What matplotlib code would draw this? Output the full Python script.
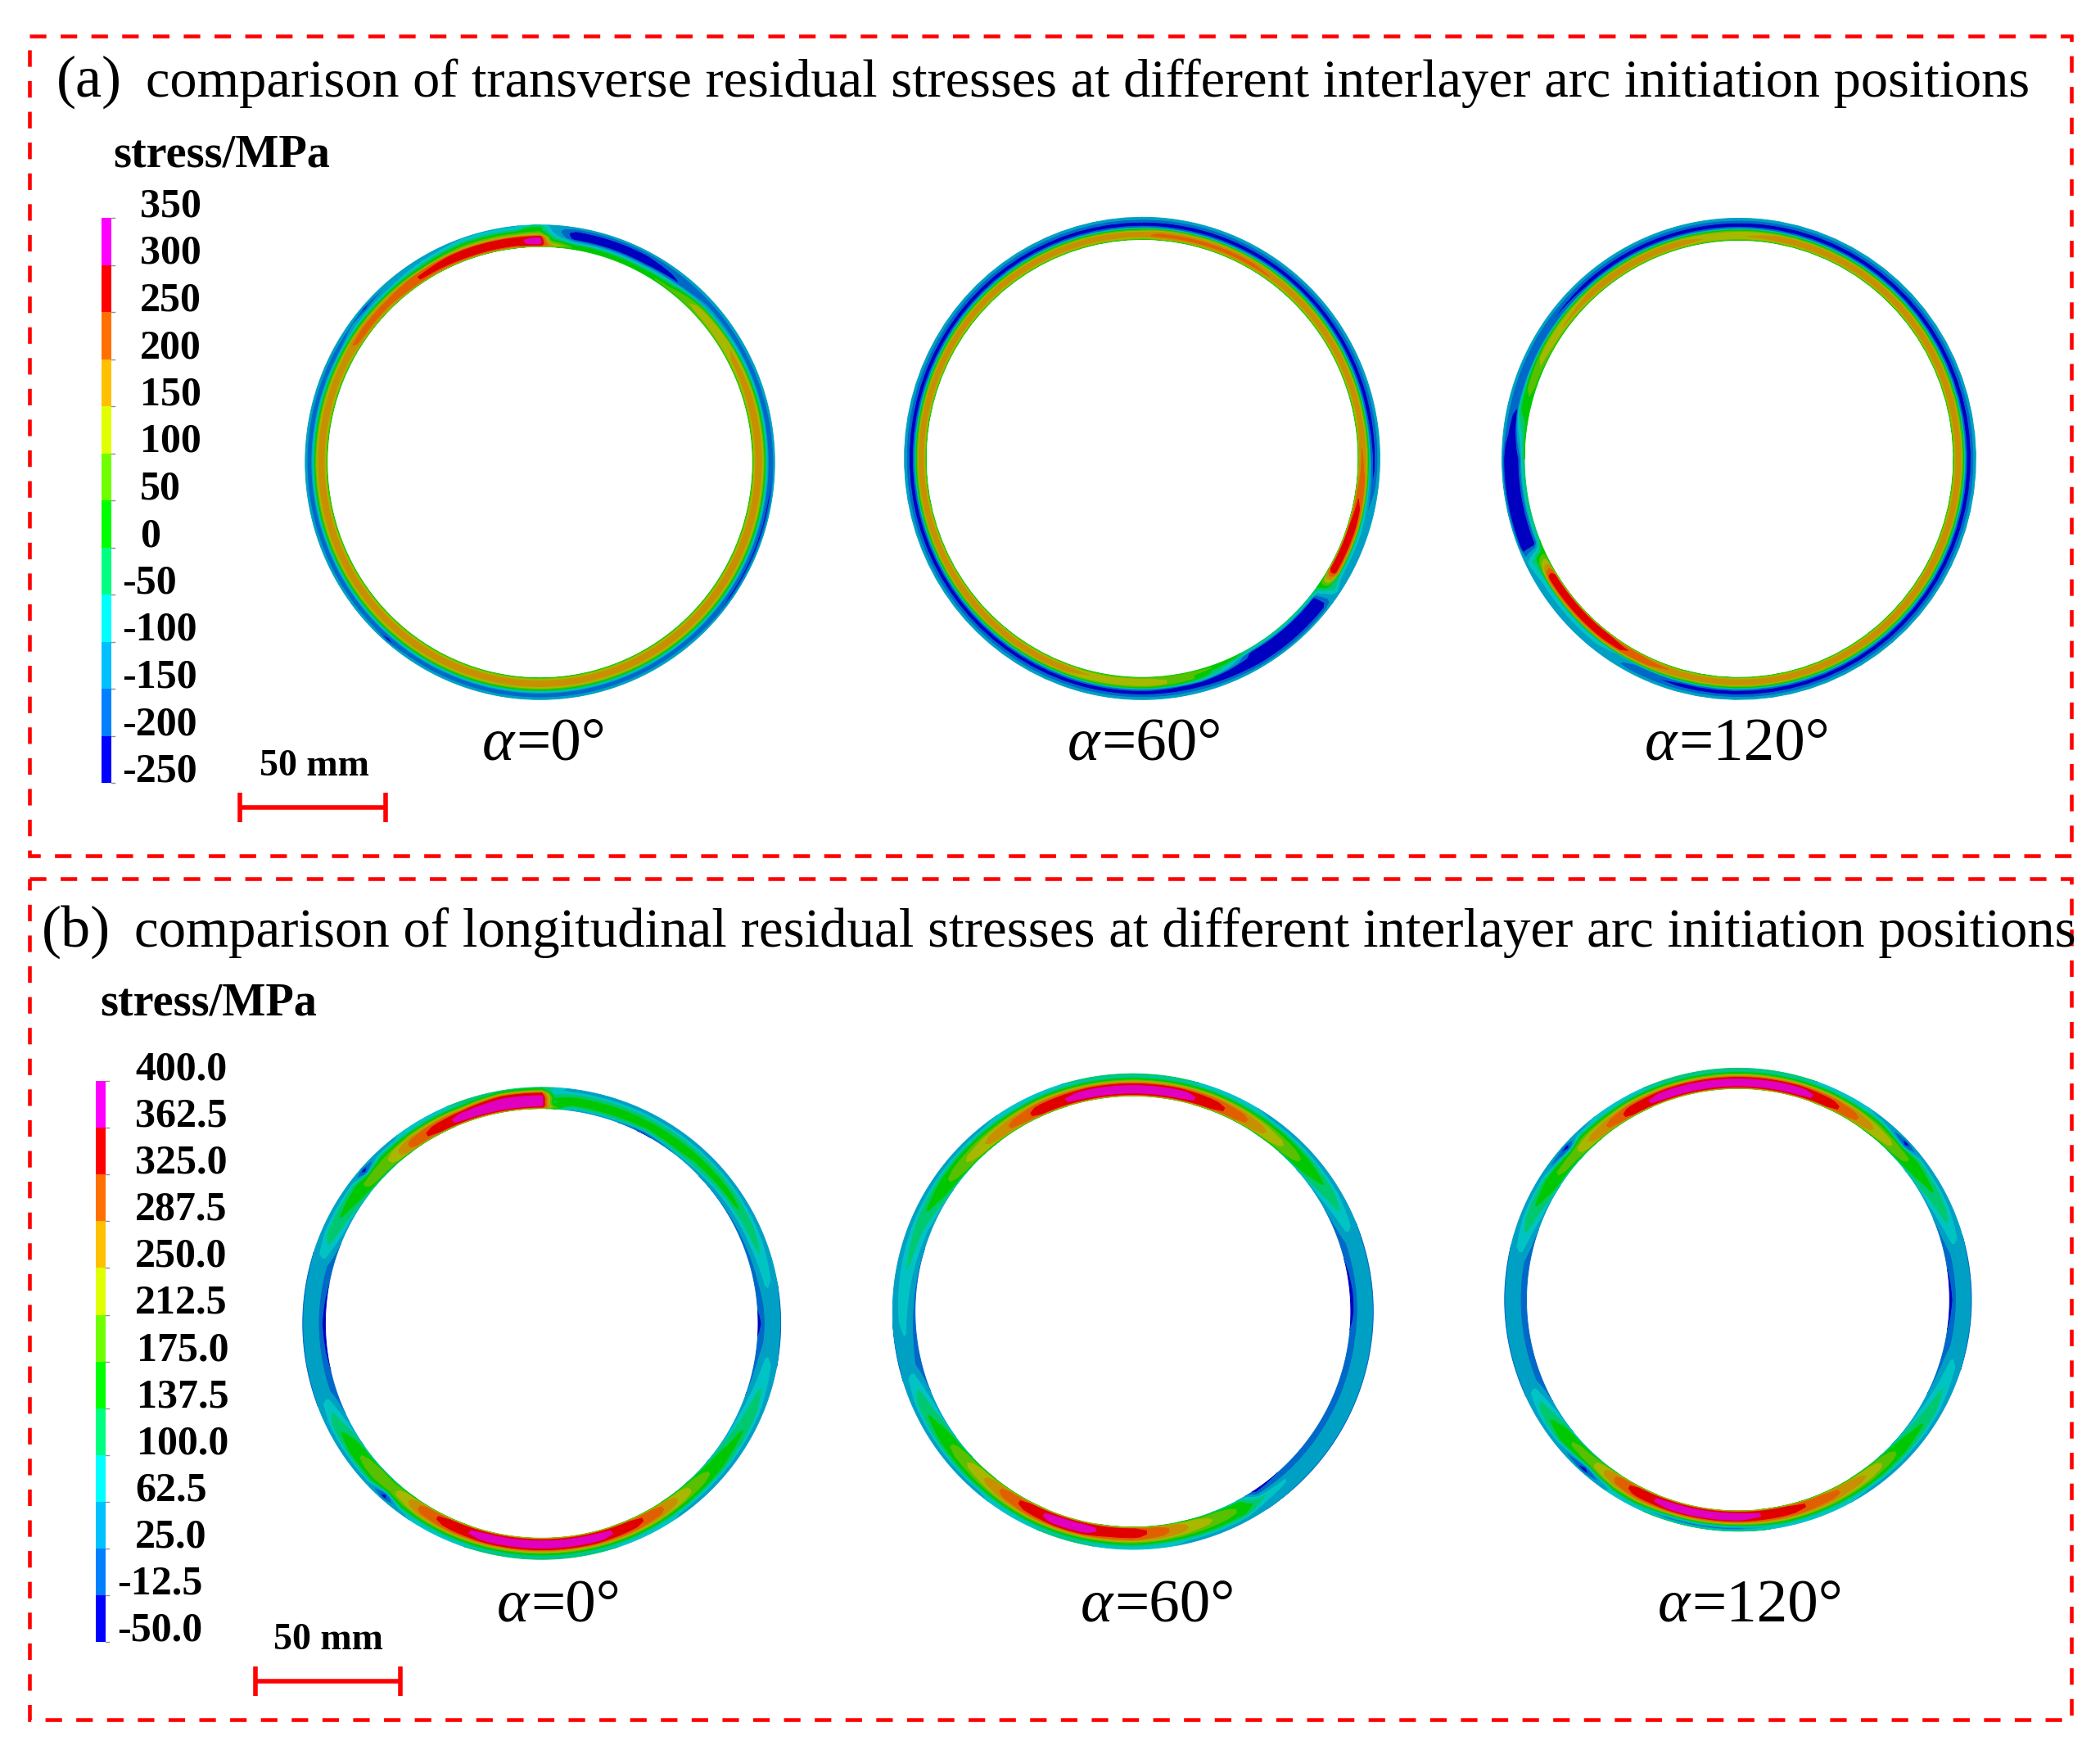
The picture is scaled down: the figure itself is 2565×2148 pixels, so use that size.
#!/usr/bin/env python3
# -*- coding: utf-8 -*-

"""Residual stress rings, transverse (a) and longitudinal (b)."""

import numpy as np
import matplotlib
matplotlib.use('Agg')
import matplotlib.pyplot as plt
from matplotlib.path import Path
from matplotlib.patches import Rectangle
from matplotlib.transforms import Transform

plt.rcParams['font.family'] = ['Liberation Serif', 'DejaVu Serif']

# colour bars
LEGEND_COLORS = ['#0000ff', '#0080ff', '#00c0ff', '#00ffff', '#00ff80', '#00ff00',
                 '#70ff00', '#e0ff00', '#ffc000', '#ff7000', '#ff0000', '#ff00ff']
RING_COLORS = ['#0000c0', '#0068c8', '#00a0c4', '#00c4c4', '#00c870', '#00c800',
               '#58c000', '#a8b800', '#c89000', '#e06000', '#e00000', '#e000c0']
LEVELS_A = [-250, -200, -150, -100, -50, 0, 50, 100, 150, 200, 250, 300, 350]
LEVELS_B = [-50, -12.5, 25, 62.5, 100, 137.5, 175, 212.5, 250, 287.5, 325, 362.5, 400]
LABELS_A = ['-250', '-200', '-150', '-100', '-50', '0', '50', '100', '150', '200',
            '250', '300', '350']
LABELS_B = ['-50.0', '-12.5', '25.0', '62.5', '100.0', '137.5', '175.0', '212.5',
            '250.0', '287.5', '325.0', '362.5', '400.0']

# position across the wall, 0 = inner edge, 1 = outer edge
WALL = [0, .08, .18, .33, .45, .55, .72, .88, 1]

# stress across the wall, panel (a), first ring
A1_BASE = [25, 115, 175, 178, 130, 20, -170, -165, -115]
A1_DEEP = [25, 115, 175, 178, 130, 20, -170, -215, -125]
A1_SPOT = [25, 115, 178, 180, 130, 20, -170, -230, -130]
A1_WARM = [30, 170, 215, 220, 165, 30, -120, -160, -115]
A1_WARM_SPOT = [30, 170, 215, 220, 165, 30, -120, -230, -115]
A1_WARM2 = [35, 230, 255, 255, 215, 45, -60, -130, -112]
A1_HOT = [40, 240, 275, 278, 270, 120, 10, -80, -110]
A1_MAX = [60, 280, 320, 325, 285, 130, 30, 10, -60]
A1_SEAM = [60, 160, 100, 20, -20, -60, -100, -120, -120]
A1_WEDGE = [20, 40, 0, -120, -225, -240, -240, -180, -115]
A1_WEDGE_END = [25, 60, 40, -40, -150, -215, -190, -165, -115]
A1_OLIVE = [30, 90, 130, 125, 40, -100, -170, -160, -115]
A1_OLIVE2 = [30, 110, 145, 150, 110, -40, -170, -160, -115]
A1_THETA = [0, 3, 9, 28, 37, 47, 60, 72, 100, 125, 140, 216, 221, 226, 297, 306, 311,
            316, 328, 340, 354, 358, 360]
A1_ROWS = [A1_MAX, A1_SEAM, A1_WEDGE, A1_WEDGE, A1_WEDGE_END, A1_OLIVE, A1_OLIVE2,
           A1_BASE, A1_DEEP, A1_DEEP, A1_BASE, A1_BASE, A1_SPOT, A1_BASE, A1_BASE,
           A1_WARM, A1_WARM_SPOT, A1_WARM, A1_WARM2, A1_HOT, A1_HOT, A1_MAX, A1_MAX]

# panel (a), second ring
A2_BASE = [25, 130, 180, 150, 20, -190, -225, -160, -115]
A2_STREAK = [25, 150, 215, 190, 40, -190, -225, -160, -115]
A2_WARM = [25, 170, 215, 190, 40, -120, -225, -160, -115]
A2_HOT = [30, 250, 285, 280, 180, -40, -120, -130, -110]
A2_SEAM = [20, 60, 80, 60, 0, -20, -50, -100, -120]
A2_WEDGE = [-30, -100, -225, -240, -240, -240, -240, -180, -120]
A2_WEDGE_END = [30, 20, -60, -120, -225, -240, -235, -165, -115]
A2_GREEN = [25, 70, 40, 40, -60, -205, -225, -160, -115]
A2_OLIVE = [25, 100, 130, 130, 30, -190, -225, -160, -115]
A2_THETA = [0, 4, 30, 42, 80, 93, 108, 120, 124, 129, 150, 156, 165, 178, 190, 200, 360]
A2_ROWS = [A2_BASE, A2_STREAK, A2_STREAK, A2_BASE, A2_BASE, A2_WARM, A2_HOT, A2_HOT,
           A2_SEAM, A2_WEDGE, A2_WEDGE, A2_WEDGE_END, A2_GREEN, A2_OLIVE, A2_OLIVE,
           A2_BASE, A2_BASE]

# panel (a), third ring
A3_BASE = [25, 135, 185, 150, 20, -190, -228, -160, -115]
A3_TOP = [25, 110, 140, 130, 20, -190, -228, -160, -115]
A3_WARM = [25, 200, 230, 215, 60, -150, -170, -160, -115]
A3_HOT = [30, 260, 290, 285, 170, -50, -100, -130, -110]
A3_SEAM = [20, 60, 70, 40, 10, -30, -60, -100, -120]
A3_WEDGE = [0, -60, -160, -240, -240, -240, -240, -240, -130]
A3_WEDGE_END = [20, -30, -60, -120, -215, -240, -225, -170, -115]
A3_GREEN = [20, 30, 30, 20, -50, -200, -190, -160, -115]
A3_OLIVE = [25, 90, 130, 120, 30, -160, -190, -165, -115]
A3_THETA = [0, 10, 195, 207, 218, 238, 244, 248, 270, 276, 283, 300, 318, 345, 352, 360]
A3_ROWS = [A3_TOP, A3_BASE, A3_BASE, A3_WARM, A3_HOT, A3_HOT, A3_SEAM, A3_WEDGE,
           A3_WEDGE, A3_WEDGE_END, A3_GREEN, A3_OLIVE, A3_BASE, A3_BASE, A3_TOP, A3_TOP]

# stress across the wall, panel (b)
B_COOL = [-5, 5, 15, 30, 45, 45, 45, 35, 20]
B_COOLEST = [-30, -25, -5, 30, 45, 45, 45, 35, 20]
B_TIP = [30, 50, 70, 100, 120, 125, 100, 50, 35]
B_GREEN = [60, 130, 155, 165, 165, 160, 130, 50, 35]
B_LIME = [90, 180, 195, 200, 198, 185, 130, 50, 40]
B_SPOT = [90, 170, 195, 200, 195, 150, -10, -30, 30]
B_OLIVE = [130, 225, 240, 245, 235, 205, 140, 60, 50]
B_ORANGE = [150, 285, 305, 305, 295, 260, 150, 70, 70]
B_RED = [170, 330, 345, 345, 335, 300, 170, 85, 90]
B_MAX = [180, 345, 378, 380, 370, 325, 175, 90, 110]
B_TOPMAX = [200, 350, 385, 385, 385, 378, 330, 160, 120]
B_NOISY = [180, 345, 378, 380, 365, 300, 130, -10, 120]
B_SEAM = [140, 200, 150, 130, 140, 130, 90, 70, 100]
B_BAND = [30, 70, 130, 150, 155, 150, 110, 50, 35]
B_BAND_THIN = [-25, 10, 100, 150, 155, 150, 110, 50, 35]
B_FADE = [20, 40, 60, 110, 150, 150, 120, 50, 35]
B_FADE2 = [10, 20, 40, 70, 100, 110, 90, 50, 35]
B_INNER_DEEP = [-30, -20, 5, 60, 110, 100, 60, 40, 25]

B1_THETA = [0, 3, 8, 20, 28, 38, 55, 70, 85, 90, 95, 112, 130, 137, 149, 157, 166, 180,
            194, 204, 212, 217, 222, 227, 236, 244, 252, 270, 285, 293, 307, 311, 316,
            325, 333, 340, 350, 360]
B1_ROWS = [B_TOPMAX, B_SEAM, B_BAND, B_BAND, B_BAND_THIN, B_BAND, B_FADE, B_FADE2, B_COOL,
           B_COOLEST, B_COOL, B_TIP, B_GREEN, B_LIME, B_ORANGE, B_RED, B_MAX, B_MAX,
           B_MAX, B_RED, B_ORANGE, B_OLIVE, B_SPOT, B_LIME, B_GREEN, B_TIP, B_COOL,
           B_COOLEST, B_COOL, B_TIP, B_GREEN, B_SPOT, B_LIME, B_ORANGE, B_RED, B_MAX,
           B_TOPMAX, B_TOPMAX]

B2_THETA = [0, 12, 20, 28, 37, 49, 60, 72, 85, 90, 97, 135, 146, 151, 165, 173, 180, 186,
            193, 200, 207, 214, 222, 235, 247, 256, 292, 304, 318, 330, 336, 349, 360]
B2_ROWS = [B_MAX, B_MAX, B_RED, B_ORANGE, B_OLIVE, B_GREEN, B_TIP, B_COOL, B_COOLEST,
           B_COOLEST, B_COOL, B_COOL, B_INNER_DEEP, B_GREEN, B_OLIVE, B_ORANGE, B_RED,
           B_RED, B_MAX, B_MAX, B_RED, B_ORANGE, B_OLIVE, B_GREEN, B_TIP, B_COOL, B_TIP,
           B_GREEN, B_OLIVE, B_ORANGE, B_RED, B_MAX, B_MAX]

B3_THETA = [0, 16, 24, 31, 39, 47, 52, 66, 78, 90, 102, 119, 133, 143, 156, 168, 180, 188,
            198, 207, 213, 222, 232, 240, 248, 280, 291, 302, 312, 316, 326, 331, 341, 360]
B3_ROWS = [B_MAX, B_MAX, B_RED, B_ORANGE, B_OLIVE, B_SPOT, B_GREEN, B_TIP, B_COOL,
           B_COOLEST, B_COOL, B_TIP, B_GREEN, B_OLIVE, B_ORANGE, B_RED, B_NOISY, B_NOISY,
           B_NOISY, B_RED, B_ORANGE, B_SPOT, B_GREEN, B_TIP, B_COOL, B_COOL, B_TIP,
           B_GREEN, B_SPOT, B_OLIVE, B_ORANGE, B_RED, B_MAX, B_MAX]

# cx, cy, inner rx, inner ry, outer rx, outer ry
RING_GEOM_A = [(659.5, 564.5, 259.8, 263.3, 286.7, 289.8),
               (1395, 559.8, 263.9, 267.4, 290.4, 294.5),
               (2124, 560.4, 262, 267, 289.4, 293.9)]
RING_GEOM_B = [(661.7, 1616, 264.3, 262.3, 291.9, 288.2),
               (1383.8, 1601.6, 266.1, 263.2, 293.5, 290.4),
               (2122.9, 1587.1, 258.4, 257.8, 285.1, 282.7)]

ALPHA_TEXT = ['=0°', '=60°', '=120°']


class RingTransform(Transform):
    """(angle clockwise from top, wall position) to picture pixels."""
    input_dims = 2
    output_dims = 2

    def __init__(self, geom):
        super().__init__()
        self.geom = geom

    def transform_non_affine(self, values):
        cx, cy, irx, iry, orx, ory = self.geom
        values = np.asarray(values, dtype=float)
        th = np.radians(values[:, 0])
        f = values[:, 1]
        x = cx + (irx + f * (orx - irx)) * np.sin(th)
        y = cy - (iry + f * (ory - iry)) * np.cos(th)
        return np.column_stack([x, y])

    def transform_path_non_affine(self, path):
        # long segments along the wall have to bend with the ring
        dense = path.interpolated(40)
        return Path(self.transform_non_affine(dense.vertices), dense.codes)


def draw_ring(ax, geom, theta, rows, levels):
    t = RingTransform(geom) + ax.transData
    cs = ax.contourf(theta, WALL, np.array(rows, dtype=float).T, levels=levels,
                     colors=RING_COLORS, transform=t, antialiased=True)
    cs.set_edgecolor('face')
    cs.set_linewidth(0.7)


def draw_colorbar(ax, x0, y_top, band_h, labels, label_x, neg_x, wide_x=None):
    n = len(LEGEND_COLORS)
    width = 12
    for i, color in enumerate(LEGEND_COLORS):
        ax.bar(x0, band_h, width=width, bottom=y_top + (n - 1 - i) * band_h, color=color,
               align='edge', linewidth=0)
    for i, lab in enumerate(labels):
        y = y_top + (n - i) * band_h
        ax.plot([x0 + width, x0 + width + 4], [y, y], color='#909090', lw=1)
        x = neg_x if lab.startswith('-') else label_x
        if wide_x is not None and lab in ('100.0', '137.5', '175.0'):
            x = wide_x
        ax.text(x, y - 13.5, lab, fontsize=36, fontweight='bold', ha='left', va='center')


def draw_scale(ax, x0, x1, y, cap, text_x, text_y):
    ax.plot([x0, x1], [y, y], color='#ff0000', lw=4, solid_capstyle='butt')
    for x in (x0, x1):
        ax.plot([x, x], [y - cap, y + cap], color='#ff0000', lw=4, solid_capstyle='butt')
    ax.text(text_x, text_y, '50 mm', fontsize=33, fontweight='bold', ha='left', va='center')


def draw_alpha(ax, x, y, tail):
    t = ax.text(x, y, 'α', fontsize=54, style='italic', ha='left', va='baseline')
    w = t.get_window_extent(ax.figure.canvas.get_renderer()).width
    ax.text(x + w + 2, y, tail, fontsize=54, ha='left', va='baseline')


def main():
    fig = plt.figure(figsize=(25.65, 21.48), dpi=100)
    ax = fig.add_axes([0, 0, 1, 1])
    ax.set_axis_off()

    for geom, theta, rows in zip(RING_GEOM_A, [A1_THETA, A2_THETA, A3_THETA],
                                 [A1_ROWS, A2_ROWS, A3_ROWS]):
        draw_ring(ax, geom, theta, rows, LEVELS_A)
    for geom, theta, rows in zip(RING_GEOM_B, [B1_THETA, B2_THETA, B3_THETA],
                                 [B1_ROWS, B2_ROWS, B3_ROWS]):
        draw_ring(ax, geom, theta, rows, LEVELS_B)

    # dashed frames
    for x0, y0, x1, y1 in [(36, 44, 2530, 1045), (36, 1073, 2530, 2100)]:
        ax.add_patch(Rectangle((x0, y0), x1 - x0, y1 - y0, fill=False, edgecolor='#ff0000',
                               lw=3.3, linestyle=(0, (4.4, 3.8)), capstyle='butt'))

    # titles
    ax.text(69, 118, '(a)', fontsize=52, ha='left', va='baseline')
    ax.text(178, 118, 'comparison of transverse residual stresses at different '
            'interlayer arc initiation positions', fontsize=47.8, ha='left', va='baseline')
    ax.text(51, 1156, '(b)', fontsize=52, ha='left', va='baseline')
    ax.text(164, 1156, 'comparison of longitudinal residual stresses at different '
            'interlayer arc initiation positions', fontsize=48.2, ha='left', va='baseline')

    ax.text(138, 190, 'stress/MPa', fontsize=40.5, fontweight='bold', ha='left', va='center')
    ax.text(122, 1226, 'stress/MPa', fontsize=40.5, fontweight='bold', ha='left', va='center')

    draw_colorbar(ax, 124, 266, 57.5, LABELS_A, 171, 149)
    draw_colorbar(ax, 117, 1320, 57.1, LABELS_B, 165, 143, wide_x=167)

    draw_scale(ax, 293, 471, 986, 18, 317, 936)
    draw_scale(ax, 312, 489, 2053, 18, 334, 2003)

    for x, tail in zip([589, 1304, 2009], ALPHA_TEXT):
        draw_alpha(ax, x, 928, tail)
    for x, tail in zip([607, 1320, 2025], ALPHA_TEXT):
        draw_alpha(ax, x, 1979, tail)

    ax.set_xlim(0, 2565)
    ax.set_ylim(2148, 0)
    fig.savefig('out.png', dpi=100, facecolor='white')


if __name__ == '__main__':
    main()
